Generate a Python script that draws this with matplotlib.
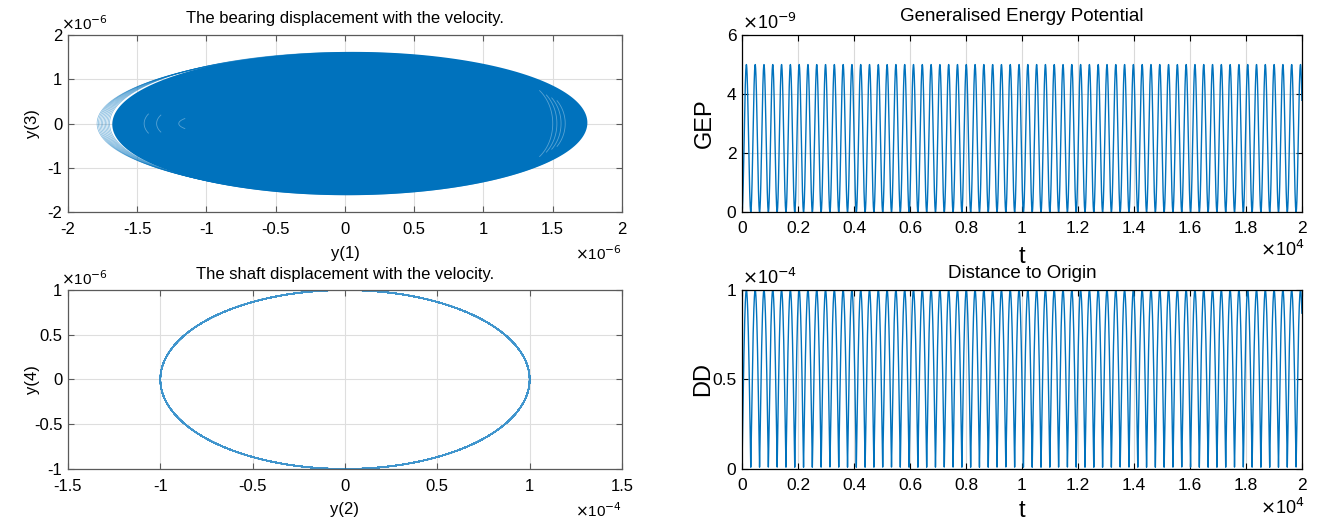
import numpy as np
import matplotlib
matplotlib.use("Agg")
import matplotlib.pyplot as plt
from matplotlib.ticker import FuncFormatter

plt.rcParams["font.family"] = ["Liberation Sans", "DejaVu Sans"]

BLUE = "#0072BD"

# time span and shaft oscillation (amplitudes from the shaft orbit, ~32 orbits over 2e4)
t_end = 2.0e4
n_samples = 20001
shaft_amp_y2 = 1.0e-4
shaft_amp_y4 = 1.0e-6
shaft_period = 628.3

# bearing orbit: solid body plus the thin rings showing at its left edge
body_center = 0.035e-6
body_half_width = 1.715e-6
body_half_height = 1.62e-6
body_skew = 0.02e-6
ring_centers = [-0.075e-6, -0.065e-6, -0.055e-6, -0.045e-6, -0.035e-6,
                -0.025e-6, -0.015e-6, -0.005e-6, 0.005e-6, 0.015e-6]
ring_half_heights = [1.50e-6, 1.52e-6, 1.54e-6, 1.55e-6, 1.56e-6,
                     1.57e-6, 1.58e-6, 1.59e-6, 1.60e-6, 1.61e-6]
# lighter arcs inside the body (right crescents, left specks)
arc_x_at_zero = [1.50e-6, 1.53e-6, 1.56e-6, 1.59e-6, -1.45e-6, -1.36e-6, -1.20e-6]
arc_half_heights = [0.95e-6, 0.90e-6, 0.85e-6, 0.80e-6, 0.45e-6, 0.40e-6, 0.20e-6]
arc_spans = [0.9, 0.8, 0.75, 0.7, 0.5, 0.5, 0.6]

t = np.linspace(0, t_end, n_samples)
y2 = shaft_amp_y2 * np.sin(2 * np.pi * t / shaft_period)
y4 = shaft_amp_y4 * np.cos(2 * np.pi * t / shaft_period)
gep = 0.5 * y2 ** 2
dd = np.sqrt(y2 ** 2 + y4 ** 2)

fig = plt.figure(figsize=(13.2, 5.21), dpi=100)
ax1 = fig.add_axes([0.0515, 0.593, 0.4197, 0.3397])
ax2 = fig.add_axes([0.0515, 0.0998, 0.4197, 0.3436])
ax3 = fig.add_axes([0.5621, 0.593, 0.4242, 0.3397])
ax4 = fig.add_axes([0.5621, 0.0998, 0.4242, 0.3436])


def scaled(scale):
    return FuncFormatter(lambda v, p: "%g" % round(v / scale, 6))


def style(ax, edge, grid, size, xpad):
    for s in ax.spines.values():
        s.set_color(edge)
        s.set_linewidth(0.9)
    ax.tick_params(direction="in", top=True, right=True, length=4, width=0.8,
                   color=edge, labelsize=size, pad=4)
    ax.tick_params(axis="x", pad=xpad)
    ax.grid(True, color=grid, linewidth=0.8)
    ax.set_axisbelow(True)


# bearing orbit
th = np.linspace(0, 2 * np.pi, 720)
ax1.fill(body_center + body_half_width * np.cos(th) + body_skew * np.sin(th),
         body_half_height * np.sin(th), color=BLUE, lw=0)
for c, b in zip(ring_centers, ring_half_heights):
    ax1.plot(c + body_half_width * np.cos(th), b * np.sin(th),
             color=BLUE, lw=0.5, alpha=0.5)
for x0, b, span in zip(arc_x_at_zero, arc_half_heights, arc_spans):
    a = 0.25e-6
    ph = np.linspace(-span, span, 80)
    sgn = 1 if x0 > 0 else -1
    ax1.plot(x0 - sgn * a + sgn * a * np.cos(ph), b * np.sin(ph),
             color="white", lw=0.6, alpha=0.35)
style(ax1, "#5a5a5a", "#dedede", 12, 7.5)
ax1.set_xlim(-2e-6, 2e-6)
ax1.set_ylim(-2e-6, 2e-6)
ax1.set_xticks(np.arange(-2, 2.01, 0.5) * 1e-6)
ax1.set_yticks(np.arange(-2, 2.01, 1) * 1e-6)
ax1.xaxis.set_major_formatter(scaled(1e-6))
ax1.yaxis.set_major_formatter(scaled(1e-6))
ax1.text(0.5, 1.095, "The bearing displacement with the velocity.",
         transform=ax1.transAxes, ha="center", va="center", fontsize=12)
ax1.set_xlabel("y(1)", fontsize=12)
ax1.set_ylabel("y(3)", fontsize=12)
ax1.xaxis.set_label_coords(0.5, -0.19)
ax1.yaxis.set_label_coords(-0.05, 0.5)
ax1.text(-0.012, 1.01, r"$\times$10$^{-6}$", transform=ax1.transAxes,
         ha="left", va="bottom", fontsize=11)
ax1.text(1.0, -0.235, r"$\times$10$^{-6}$", transform=ax1.transAxes,
         ha="right", va="center", fontsize=11)

# shaft orbit
ax2.plot(y2, y4, color=BLUE, lw=0.9, alpha=0.75)
style(ax2, "#5a5a5a", "#dedede", 12, 7.5)
ax2.set_xlim(-1.5e-4, 1.5e-4)
ax2.set_ylim(-1e-6, 1e-6)
ax2.set_xticks(np.arange(-1.5, 1.51, 0.5) * 1e-4)
ax2.set_yticks(np.arange(-1, 1.01, 0.5) * 1e-6)
ax2.xaxis.set_major_formatter(scaled(1e-4))
ax2.yaxis.set_major_formatter(scaled(1e-6))
ax2.text(0.5, 1.084, "The shaft displacement with the velocity.",
         transform=ax2.transAxes, ha="center", va="center", fontsize=12)
ax2.set_xlabel("y(2)", fontsize=12)
ax2.set_ylabel("y(4)", fontsize=12)
ax2.xaxis.set_label_coords(0.5, -0.185)
ax2.yaxis.set_label_coords(-0.05, 0.5)
ax2.text(-0.012, 1.01, r"$\times$10$^{-6}$", transform=ax2.transAxes,
         ha="left", va="bottom", fontsize=11)
ax2.text(1.0, -0.23, r"$\times$10$^{-4}$", transform=ax2.transAxes,
         ha="right", va="center", fontsize=11)

# generalised energy potential
ax3.plot(t, gep, color=BLUE, lw=1.0)
style(ax3, "black", "#d9d9d9", 12.5, 6.5)
ax3.set_xlim(0, t_end)
ax3.set_ylim(0, 6e-9)
ax3.set_xticks(np.arange(0, 2.01, 0.2) * 1e4)
ax3.set_yticks(np.arange(0, 6.01, 2) * 1e-9)
ax3.xaxis.set_major_formatter(scaled(1e4))
ax3.yaxis.set_major_formatter(scaled(1e-9))
ax3.text(0.5, 1.105, "Generalised Energy Potential", transform=ax3.transAxes,
         ha="center", va="center", fontsize=13.5)
ax3.set_xlabel("t", fontsize=17)
ax3.set_ylabel("GEP", fontsize=17)
ax3.xaxis.set_label_coords(0.5, -0.19)
ax3.yaxis.set_label_coords(-0.046, 0.5)
ax3.text(0.0, 1.01, r"$\times$10$^{-9}$", transform=ax3.transAxes,
         ha="left", va="bottom", fontsize=13)
ax3.text(1.005, -0.215, r"$\times$10$^{4}$", transform=ax3.transAxes,
         ha="right", va="center", fontsize=13)

# distance to origin
ax4.plot(t, dd, color=BLUE, lw=1.0)
style(ax4, "black", "#d9d9d9", 12.5, 6.5)
ax4.set_xlim(0, t_end)
ax4.set_ylim(0, 1e-4)
ax4.set_xticks(np.arange(0, 2.01, 0.2) * 1e4)
ax4.set_yticks([0, 0.5e-4, 1e-4])
ax4.xaxis.set_major_formatter(scaled(1e4))
ax4.yaxis.set_major_formatter(scaled(1e-4))
ax4.text(0.5, 1.09, "Distance to Origin", transform=ax4.transAxes,
         ha="center", va="center", fontsize=13.5)
ax4.set_xlabel("t", fontsize=17)
ax4.set_ylabel("DD", fontsize=17)
ax4.xaxis.set_label_coords(0.5, -0.173)
ax4.yaxis.set_label_coords(-0.05, 0.5)
ax4.text(0.0, 1.01, r"$\times$10$^{-4}$", transform=ax4.transAxes,
         ha="left", va="bottom", fontsize=13)
ax4.text(1.005, -0.215, r"$\times$10$^{4}$", transform=ax4.transAxes,
         ha="right", va="center", fontsize=13)

fig.savefig("out.png", dpi=100)
